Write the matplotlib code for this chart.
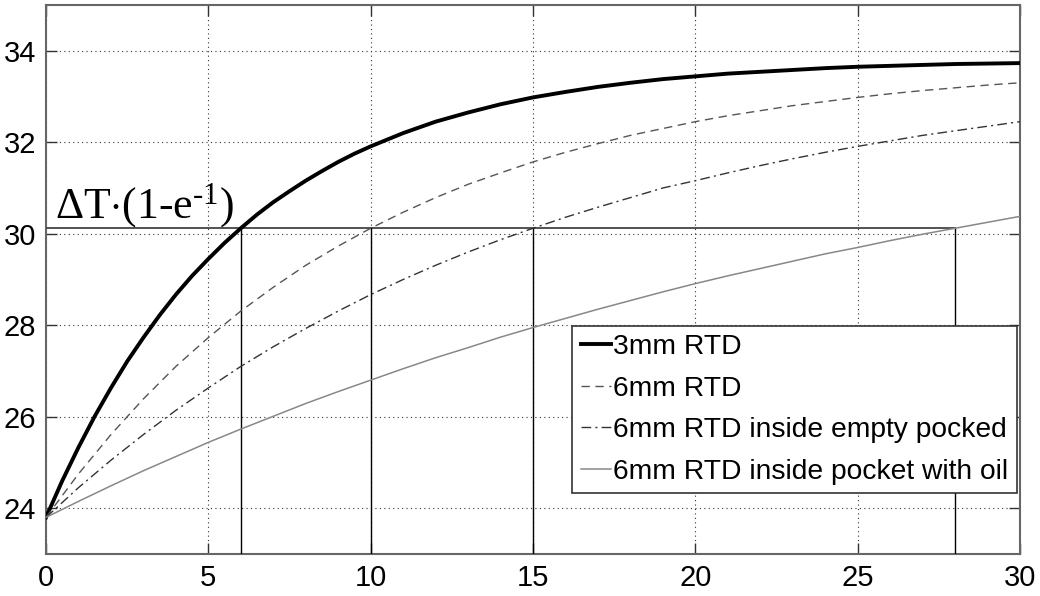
import matplotlib
matplotlib.use("Agg")
import matplotlib.pyplot as plt

plt.rcParams['font.family'] = ['Liberation Sans', 'DejaVu Sans']
plt.rcParams['mathtext.fontset'] = 'custom'
plt.rcParams['mathtext.rm'] = 'Liberation Serif'
plt.rcParams['mathtext.it'] = 'Liberation Serif'
plt.rcParams['mathtext.bf'] = 'Liberation Serif'

time_3mm = [0, 0.5, 1, 1.5, 2, 2.5, 3, 3.5, 4, 4.5, 5, 5.5, 6, 6.5, 7, 7.5, 8, 8.5, 9, 9.5,
            10, 11, 12, 13, 14, 15, 16, 17, 18, 19, 20, 21, 22, 23, 24, 25, 26, 27, 28, 29, 30]
rtd_3mm = [23.80, 24.60, 25.33, 26.01, 26.63, 27.21, 27.73, 28.22, 28.67, 29.08,
           29.45, 29.80, 30.12, 30.42, 30.69, 30.93, 31.16, 31.37, 31.57, 31.75,
           31.91, 32.20, 32.45, 32.65, 32.83, 32.98, 33.10, 33.21, 33.30, 33.38,
           33.44, 33.50, 33.54, 33.58, 33.62, 33.65, 33.67, 33.69, 33.71, 33.72, 33.73]
time_s = [0, 1, 2, 3, 4, 5, 6, 7, 8, 9, 10, 11, 12, 13, 14, 15, 16, 17, 18, 19,
          20, 21, 22, 23, 24, 25, 26, 27, 28, 29, 30]
rtd_6mm = [23.80, 24.75, 25.61, 26.39, 27.10, 27.73, 28.31, 28.83, 29.31, 29.73,
           30.12, 30.47, 30.79, 31.08, 31.33, 31.57, 31.78, 31.97, 32.15, 32.30,
           32.45, 32.58, 32.69, 32.80, 32.89, 32.98, 33.06, 33.13, 33.19, 33.25, 33.30]
rtd_6mm_empty = [23.80, 24.45, 25.05, 25.61, 26.14, 26.63, 27.10, 27.53, 27.93, 28.31,
                 28.67, 29.00, 29.31, 29.60, 29.87, 30.12, 30.36, 30.58, 30.79, 31.00,
                 31.16, 31.33, 31.49, 31.64, 31.78, 31.91, 32.03, 32.15, 32.25, 32.35, 32.45]
rtd_6mm_oil = [23.80, 24.15, 24.49, 24.82, 25.13, 25.44, 25.73, 26.01, 26.29, 26.55,
               26.80, 27.05, 27.29, 27.51, 27.74, 27.95, 28.15, 28.35, 28.54, 28.73,
               28.91, 29.08, 29.24, 29.40, 29.56, 29.70, 29.85, 29.99, 30.12, 30.25, 30.38]
labels = ['3mm RTD', '6mm RTD', '6mm RTD inside empty pocked', '6mm RTD inside pocket with oil']

level = 30.12
time_constants = [6, 10, 15, 28]
ymin = 23
xticks = [0, 5, 10, 15, 20, 25, 30]
yticks = [24, 26, 28, 30, 32, 34]

fig = plt.figure(figsize=(10.4, 5.96), dpi=100)
ax = fig.add_axes([46/1040, 1-554/596, (1020-46)/1040, (554-5)/596])

ax.plot(time_3mm, rtd_3mm, color='black', lw=2.8, label=labels[0], zorder=5,
        solid_joinstyle='round')
ax.plot(time_s, rtd_6mm, color='#555555', lw=1.0, dashes=(6, 4), label=labels[1], zorder=5)
ax.plot(time_s, rtd_6mm_empty, color='#333333', lw=1.0, dashes=(7, 3, 1.5, 3), label=labels[2], zorder=5)
ax.plot(time_s, rtd_6mm_oil, color='#888888', lw=1.1, label=labels[3], zorder=5)

ax.plot([0, time_constants[-1]], [level, level], color='#444444', lw=1.3, zorder=4)
for tc in time_constants:
    ax.plot([tc, tc], [ymin, level], color='black', lw=1.0, zorder=4)

ax.text(0.28, 30.35, r'$\mathrm{\Delta T{\cdot}(1\text{-}e^{\text{-}1})}$',
        fontsize=31.5, ha='left', va='baseline', zorder=6)

ax.set_xlim(0, 30)
ax.set_ylim(23, 35)
ax.set_xticks(xticks)
ax.set_yticks(yticks)
ax.tick_params(direction='in', length=8, width=1, top=True, right=True,
               labelsize=21, pad=7, color='#333333')
ax.grid(True, linestyle=(0, (1, 3)), color='#333333', lw=0.8)
for s in ax.spines.values():
    s.set_color('#666666')
    s.set_linewidth(1.5)

leg = ax.legend(loc='lower right', bbox_to_anchor=(1017/1040, 1-493/596),
                bbox_transform=fig.transFigure, fontsize=20.3, frameon=True,
                fancybox=False, edgecolor='#333333', framealpha=1,
                handlelength=1.06, handletextpad=0.1, borderpad=0.3,
                labelspacing=0.55, borderaxespad=0)
leg.get_frame().set_linewidth(1.2)
leg.set_zorder(10)

fig.savefig('out.png', dpi=100)
